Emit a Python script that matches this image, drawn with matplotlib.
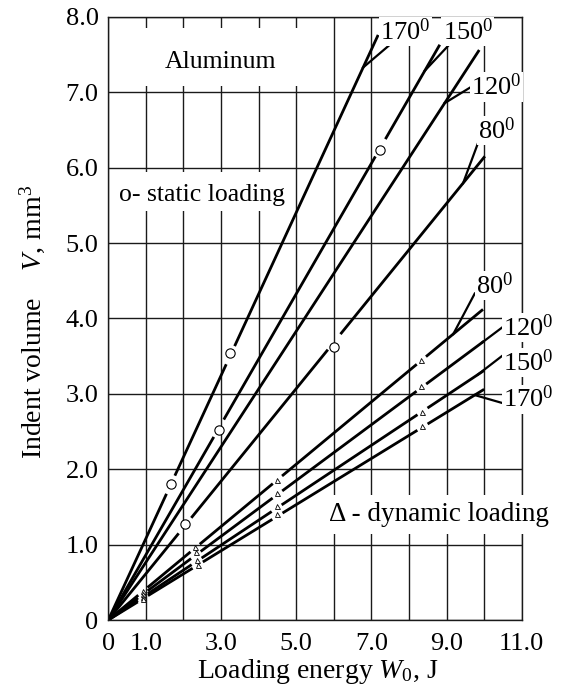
import matplotlib
matplotlib.use("Agg")
import matplotlib.pyplot as plt
from matplotlib.patches import Rectangle
import numpy as np

plt.rcParams['font.family'] = ['Liberation Serif', 'DejaVu Serif']
plt.rcParams['mathtext.fontset'] = 'custom'
plt.rcParams['mathtext.rm'] = 'Liberation Serif'
plt.rcParams['mathtext.it'] = 'Liberation Serif:italic'

# ---- data -----------------------------------------------------------------
# static loading: end of each fitted line (W0 in J, V in mm^3) and measured points
static_angles = ['170', '150', '120', '80']
static_end_w = [7.18, 8.82, 9.87, 10.02]
static_end_v = [7.76, 7.63, 7.56, 6.15]
static_pts_w = [[1.66, 3.25], [2.94, 7.24], [], [2.04, 6.01]]
static_pts_v = [[1.80, 3.54], [2.52, 6.24], [], [1.27, 3.62]]

# dynamic loading
dynamic_angles = ['80', '120', '150', '170']
dynamic_end_w = [9.97, 10.0, 10.0, 10.0]
dynamic_end_v = [4.12, 3.70, 3.31, 3.06]
dynamic_pts_w = [[0.92, 2.31, 4.50, 8.33],
                 [0.92, 2.33, 4.50, 8.33],
                 [0.92, 2.35, 4.48, 8.36],
                 [0.92, 2.38, 4.50, 8.36]]
dynamic_pts_v = [[0.38, 0.97, 1.86, 3.45],
                 [0.34, 0.90, 1.69, 3.10],
                 [0.30, 0.80, 1.51, 2.76],
                 [0.28, 0.73, 1.41, 2.57]]

x_ticks = [0, 1, 3, 5, 7, 9, 11]
x_tick_labels = ['0', '1.0', '3.0', '5.0', '7.0', '9.0', '11.0']
y_ticks = [0, 1, 2, 3, 4, 5, 6, 7, 8]
y_tick_labels = ['0', '1.0', '2.0', '3.0', '4.0', '5.0', '6.0', '7.0', '8.0']

# ---- layout of the angle labels: text anchor, leader start, leader target (W0 on the line)
static_label_layout = [
    ((7.23, 7.80), (7.54, 7.65), 6.78),
    ((8.90, 7.80), (9.22, 7.71), 8.42),
    ((9.66, 7.07), (9.62, 7.06), 8.95),
    ((9.84, 6.49), (9.87, 6.37), 9.44),
]
dynamic_label_layout = [
    ((9.78, 4.44), (9.75, 4.33), 9.18),
    ((10.50, 3.88), (10.48, 3.88), 9.95),
    ((10.50, 3.42), (10.68, 3.58), 9.83),
    ((10.50, 2.93), (10.68, 2.85), 9.75),
]

FS_TICK = 19
FS_ANG = 19
FS_NOTE = 18.5
FS_LABEL = 20
LW = 2.0

fig = plt.figure(figsize=(5.62, 6.87), dpi=100)
ax = fig.add_axes([0.1927, 0.0975, 0.7356, 0.878])
ax.set_xlim(0, 11)
ax.set_ylim(0, 8)
ax.set_axisbelow(True)

ax.set_xticks(x_ticks)
ax.set_xticklabels(x_tick_labels, fontsize=FS_TICK)
ax.set_xticks(np.arange(0, 12, 1), minor=True)
ax.set_yticks(y_ticks)
ax.set_yticklabels(y_tick_labels, fontsize=FS_TICK)
ax.tick_params(which='both', length=0)
ax.tick_params(axis='x', pad=9)
ax.tick_params(axis='y', pad=7)
ax.grid(True, which='both', color='#1a1a1a', lw=1.0)
for s in ax.spines.values():
    s.set_color('#1a1a1a')
    s.set_linewidth(1.0)


def draw_broken(w_end, v_end, pts_w, gap_px):
    """Straight line from the origin, interrupted around each measured point."""
    p0 = ax.transData.transform((0, 0))
    p1 = ax.transData.transform((w_end, v_end))
    length = np.hypot(*(p1 - p0))
    cuts = sorted((w / w_end - gap_px / length, w / w_end + gap_px / length) for w in pts_w)
    segs, start = [], 0.0
    for a, b in cuts:
        if a > start:
            segs.append((start, a))
        start = max(start, b)
    if start < 1:
        segs.append((start, 1.0))
    for a, b in segs:
        ax.plot([a * w_end, b * w_end], [a * v_end, b * v_end], color='k',
                lw=LW, solid_capstyle='butt', zorder=2)


# white masks behind the annotation texts
ax.add_patch(Rectangle((0.75, 7.08), 4.8, 0.77, facecolor='white', edgecolor='none', zorder=1))
ax.add_patch(Rectangle((0.07, 5.42), 4.6, 0.52, facecolor='white', edgecolor='none', zorder=1))

for we, ve, pw, pv in zip(static_end_w, static_end_v, static_pts_w, static_pts_v):
    draw_broken(we, ve, pw, 10)
    ax.plot(pw, pv, 'o', ms=6.7, mfc='white', mec='k', mew=0.8, zorder=4)

for we, ve, pw, pv in zip(dynamic_end_w, dynamic_end_v, dynamic_pts_w, dynamic_pts_v):
    draw_broken(we, ve, pw, 6)
    ax.plot(pw, pv, '^', ms=3.6, mfc='white', mec='k', mew=0.6, zorder=4)

# angle labels with leaders
for ang, we, ve, (txt, lead, wt) in zip(static_angles, static_end_w, static_end_v, static_label_layout):
    k = ve / we
    ax.plot([lead[0], wt], [lead[1], k * wt], color='k', lw=1.6, zorder=2, clip_on=False)
    ax.text(txt[0], txt[1], ang + r'$^0$', fontsize=FS_ANG, ha='left', va='center', zorder=5,
            clip_on=False, bbox=dict(facecolor='white', edgecolor='none', pad=1))

for ang, we, ve, (txt, lead, wt) in zip(dynamic_angles, dynamic_end_w, dynamic_end_v, dynamic_label_layout):
    k = ve / we
    ax.plot([lead[0], wt], [lead[1], k * wt], color='k', lw=1.6, zorder=2, clip_on=False)
    ax.text(txt[0], txt[1], ang + r'$^0$', fontsize=FS_ANG, ha='left', va='center', zorder=5,
            clip_on=False, bbox=dict(facecolor='white', edgecolor='none', pad=1))

ax.text(1.5, 7.40, 'Aluminum', fontsize=FS_NOTE, ha='left', va='center', zorder=5)
ax.text(0.28, 5.64, 'o- static loading', fontsize=FS_NOTE, ha='left', va='center', zorder=5)
ax.text(5.87, 1.40, '\u0394 - dynamic loading', fontsize=19.5, ha='left', va='center', zorder=5,
        clip_on=False, bbox=dict(facecolor='white', edgecolor='none', pad=5))

fig.text(32 / 562, 1 - 322 / 687, r'Indent volume    $V$, mm$^3$', rotation=90,
         fontsize=FS_LABEL, ha='center', va='center')
fig.text(318 / 562, 1 - 672 / 687, r'Loading energy $W_0$, J', fontsize=FS_LABEL,
         ha='center', va='center')

fig.savefig('out.png', dpi=100)
